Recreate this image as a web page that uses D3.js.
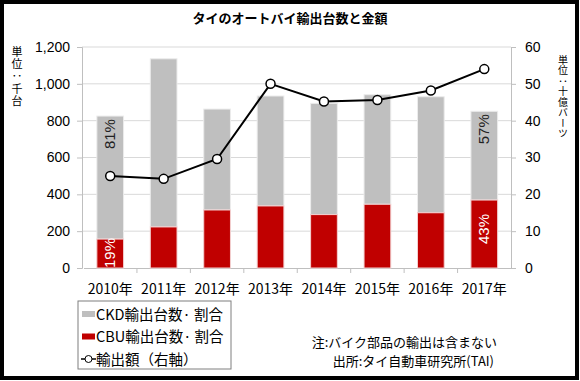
<!DOCTYPE html>
<html><head><meta charset="utf-8">
<script src="https://cdn.jsdelivr.net/npm/d3@7"></script>
<style>
body{margin:0;background:#fff;}
svg{display:block;font-family:"Liberation Sans","Noto Sans CJK JP",sans-serif;}
</style></head>
<body><svg id="c" width="580" height="381"></svg>
<script>
const years = ["2010年","2011年","2012年","2013年","2014年","2015年","2016年","2017年"];
const totalUnits = [825,1136,863,934,894,941,930,851];
const cbuUnits = [157,223,315,337,290,346,300,369];
const exportValue = [25.0,24.2,29.6,50.0,45.2,45.6,48.2,54.0];
const leftTicks = [0,200,400,600,800,1000,1200];
const rightTicks = [0,10,20,30,40,50,60];
const pctLabels = [{i:0, ckd:"81%", cbu:"19%"},{i:7, ckd:"57%", cbu:"43%"}];

const svg = d3.select("#c");
const jp = '"Noto Sans CJK JP","Liberation Sans",sans-serif';

// frame
svg.append("rect").attr("x",2).attr("y",2).attr("width",575).attr("height",376)
  .attr("fill","#fff").attr("stroke","#000").attr("stroke-width",4);

const x = d3.scaleBand().domain(years).range([83.5,511]).padding(0);
const yL = d3.scaleLinear().domain([0,1200]).range([268,47]);
const yR = d3.scaleLinear().domain([0,60]).range([268,47]);
const bw = x.bandwidth()*0.5;

// title
svg.append("text").attr("x",290).attr("y",23).attr("text-anchor","middle")
  .attr("font-size",13).attr("font-weight","bold").style("font-family",jp)
  .text("タイのオートバイ輸出台数と金額");

// gridlines
svg.append("g").selectAll("line").data(leftTicks.filter(d=>d>0)).join("line")
  .attr("x1",82).attr("x2",511).attr("y1",d=>yL(d)).attr("y2",d=>yL(d))
  .attr("stroke","#d9d9d9").attr("stroke-width",1);

// left axis
const gl = svg.append("g").attr("transform","translate(82,0)")
  .call(d3.axisLeft(yL).tickValues(leftTicks).tickSize(5).tickPadding(7).tickFormat(d3.format(",")));
gl.select(".domain").attr("stroke","#bfbfbf");
gl.selectAll(".tick line").attr("stroke","#bfbfbf");
gl.selectAll("text").attr("font-size",14).attr("fill","#000").style("font-family",'"Liberation Sans",sans-serif');

// right axis
const gr = svg.append("g").attr("transform","translate(511,0)")
  .call(d3.axisRight(yR).tickValues(rightTicks).tickSize(5).tickPadding(9));
gr.select(".domain").attr("stroke","#bfbfbf");
gr.selectAll(".tick line").attr("stroke","#bfbfbf");
gr.selectAll("text").attr("font-size",14).attr("fill","#000").style("font-family",'"Liberation Sans",sans-serif');

// bottom axis
const gb = svg.append("g").attr("transform","translate(0,268)")
  .call(d3.axisBottom(x).tickSize(0).tickPadding(16));
gb.select(".domain").attr("stroke","#bfbfbf");
gb.selectAll("text").attr("font-size",14).attr("fill","#000").style("font-family",jp);
svg.append("g").selectAll("line").data(years.slice(1)).join("line")
  .attr("x1",d=>x(d)).attr("x2",d=>x(d)).attr("y1",268).attr("y2",273)
  .attr("stroke","#bfbfbf");

// bars
const bars = svg.append("g");
bars.selectAll("rect.ckd").data(years).join("rect").attr("class","ckd")
  .attr("x",(d)=>x(d)+x.bandwidth()/2-bw/2).attr("width",bw)
  .attr("y",(d,i)=>yL(totalUnits[i])).attr("height",(d,i)=>yL(cbuUnits[i])-yL(totalUnits[i]))
  .attr("fill","#bfbfbf").attr("stroke","#ececec").attr("stroke-width",1);
bars.selectAll("rect.cbu").data(years).join("rect").attr("class","cbu")
  .attr("x",(d)=>x(d)+x.bandwidth()/2-bw/2).attr("width",bw)
  .attr("y",(d,i)=>yL(cbuUnits[i])).attr("height",(d,i)=>yL(0)-yL(cbuUnits[i]))
  .attr("fill","#c00000").attr("stroke","#f3d0d0").attr("stroke-width",1);

// percent labels
pctLabels.forEach(p=>{
  const cx = x(years[p.i])+x.bandwidth()/2;
  const ckdY = yL(totalUnits[p.i])+18;
  svg.append("text").attr("transform",`translate(${cx+5},${ckdY}) rotate(-90)`)
    .attr("text-anchor","middle").attr("font-size",15).attr("fill","#222").text(p.ckd);
  const cbuY = p.i===0 ? yL(0)-15 : (yL(cbuUnits[p.i])+yL(0))/2 - 5;
  svg.append("text").attr("transform",`translate(${cx+5},${cbuY}) rotate(-90)`)
    .attr("text-anchor","middle").attr("font-size",15).attr("fill","#fff").text(p.cbu);
});

// line
const line = d3.line().x((d,i)=>x(years[i])+x.bandwidth()/2).y(d=>yR(d));
svg.append("path").datum(exportValue).attr("d",line).attr("fill","none")
  .attr("stroke","#000").attr("stroke-width",2);
svg.append("g").selectAll("circle").data(exportValue).join("circle")
  .attr("cx",(d,i)=>x(years[i])+x.bandwidth()/2).attr("cy",d=>yR(d)).attr("r",4.5)
  .attr("fill","#fff").attr("stroke","#000").attr("stroke-width",1.5);

// unit labels (vertical, single text elements)
svg.append("text").attr("x",17).attr("y",46)
  .style("writing-mode","vertical-rl").style("text-orientation","upright")
  .attr("font-size",11).attr("letter-spacing",1.4).style("font-family",jp)
  .text("単位：千台");
svg.append("text").attr("x",563).attr("y",55)
  .style("writing-mode","vertical-rl").style("text-orientation","mixed")
  .attr("font-size",10).attr("letter-spacing",0.5).style("font-family",jp)
  .text("単位：十億バーツ");

// legend
const lg = svg.append("g");
lg.append("rect").attr("x",78).attr("y",301).attr("width",153).attr("height",68)
  .attr("fill","#fff").attr("stroke","#7f7f7f").attr("stroke-width",1);
const legItems = [
  {t:"CKD輸出台数· 割合", type:"rect", c:"#bfbfbf"},
  {t:"CBU輸出台数· 割合", type:"rect", c:"#c00000"},
  {t:"輸出額（右軸）", type:"line"}
];
legItems.forEach((d,i)=>{
  const cy = 314+i*22.5;
  if(d.type==="rect"){
    lg.append("rect").attr("x",82).attr("y",cy-3).attr("width",13).attr("height",6).attr("fill",d.c);
  } else {
    lg.append("line").attr("x1",81).attr("x2",96).attr("y1",cy).attr("y2",cy).attr("stroke","#000").attr("stroke-width",1.5);
    lg.append("circle").attr("cx",88.5).attr("cy",cy).attr("r",3.5).attr("fill","#fff").attr("stroke","#000").attr("stroke-width",1);
  }
  lg.append("text").attr("x",96).attr("y",cy+5.5).attr("font-size",14.5).style("font-family",jp).text(d.t);
});

// notes
svg.append("text").attr("x",497).attr("y",347).attr("text-anchor","end")
  .attr("font-size",13).style("font-family",jp).text("注:バイク部品の輸出は含まない");
svg.append("text").attr("x",494).attr("y",366).attr("text-anchor","end")
  .attr("font-size",13).style("font-family",jp).text("出所:タイ自動車研究所(TAI)");
</script></body></html>
